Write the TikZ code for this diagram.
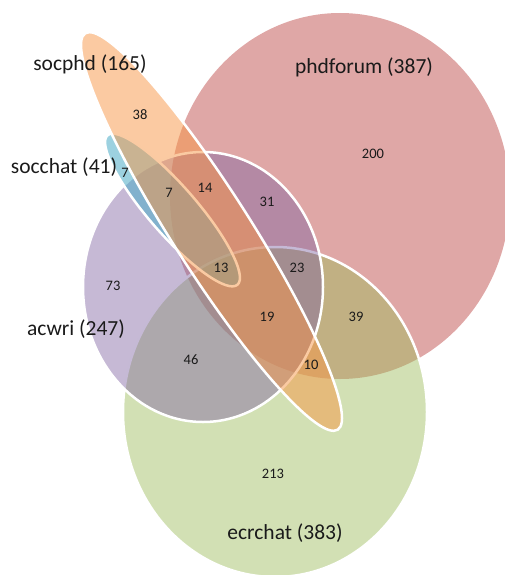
\documentclass[tikz,border=0pt]{standalone}
\usepackage{fontspec}
\setmainfont{Carlito}
\definecolor{cpink}{HTML}{C0504D}
\definecolor{cgreen}{HTML}{9BBB59}
\definecolor{cpurple}{HTML}{8064A2}
\definecolor{cblue}{HTML}{4BACC6}
\definecolor{corange}{HTML}{F79646}
\definecolor{txt}{HTML}{1A1A1A}
\begin{document}
\begin{tikzpicture}[x=1pt,y=-1pt,
  rim/.style={draw=white, line width=2.5pt},
  big/.style={font=\fontsize{21.5}{24}\selectfont, text=txt, inner sep=0pt},
  num/.style={font=\fontsize{14.5}{16}\selectfont, text=txt, inner sep=0pt}]
\useasboundingbox (0,0) rectangle (505,575);
\clip (0,0) rectangle (505,575);
% phdforum
\path[fill=cpink, fill opacity=0.5] (340,196) ellipse [x radius=170pt, y radius=183pt];
% ecrchat
\path[fill=cgreen, fill opacity=0.45, rim] (275,412) ellipse [x radius=152pt, y radius=165pt];
% acwri
\path[fill=cpurple, fill opacity=0.45, rim] (203,287) ellipse [x radius=120pt, y radius=135pt];
% socchat
\path[fill=cblue, fill opacity=0.55, rim, rotate around={-49:(172.5,210)}] (172.5,210) ellipse [x radius=99pt, y radius=24pt];
% socphd
\path[fill=corange, fill opacity=0.5, rim, rotate around={-57.5:(211.5,231.5)}] (211.5,231.5) ellipse [x radius=235pt, y radius=39pt];
% set labels
\node[big] (lsocphd) at (90,64) {socphd (165)};
\node[big] (lsocchat) at (64,167) {socchat (41)};
\node[big] (lphd) at (364,67) {phdforum (387)};
\node[big] (lacwri) at (76,329) {acwri (247)};
\node[big] (lecr) at (285,533) {ecrchat (383)};
% region counts
\node[num] (n38) at (140,115) {38};
\node[num] (n7a) at (125,173) {7};
\node[num] (n7b) at (169,193) {7};
\node[num] (n14) at (205,188) {14};
\node[num] (n13) at (221,268) {13};
\node[num] (n73) at (113,286) {73};
\node[num] (n31) at (267,202) {31};
\node[num] (n23) at (297,268) {23};
\node[num] (n19) at (267,317) {19};
\node[num] (n46) at (191,360) {46};
\node[num] (n10) at (311,365) {10};
\node[num] (n39) at (356,317) {39};
\node[num] (n200) at (373,154) {200};
\node[num] (n213) at (273,474) {213};
\end{tikzpicture}
\end{document}
